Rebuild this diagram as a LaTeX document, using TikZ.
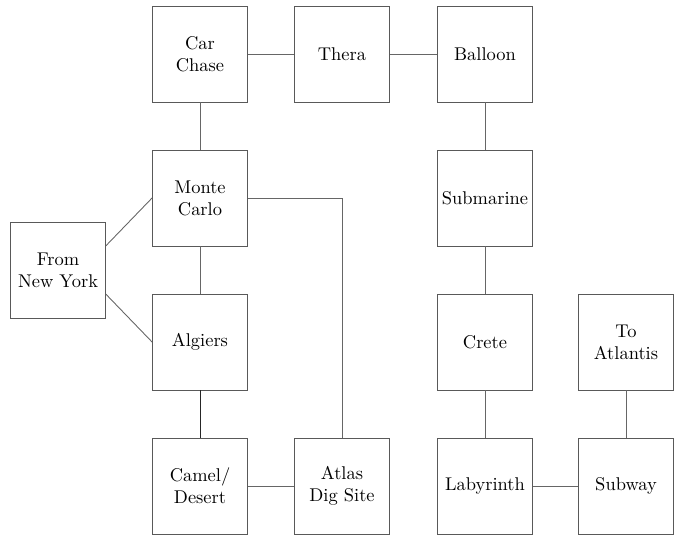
\documentclass[tikz,border=0pt]{standalone}
\usepackage{tikz}
\usetikzlibrary{positioning,calc}

\begin{document}
\begin{tikzpicture}[x=0.02cm,y=-0.02cm,
    place/.style={draw=black!65,line width=0.5pt,minimum width=1.9cm,minimum height=1.92cm,
        inner sep=1pt,align=center,font=\fontsize{10.5}{12.5}\selectfont},
    link/.style={draw=black!60,line width=0.5pt}]
    \useasboundingbox (0,0) rectangle (674,536);

    % Top row
    \node[place] (carchase) at (200,54) {Car\\Chase};
    \node[place] (thera) at (342,54) {Thera};
    \node[place] (balloon) at (485,54) {Balloon};

    % Second row
    \node[place] (montecarlo) at (200,198) {Monte\\Carlo};
    \node[place] (submarine) at (485,198) {Submarine};

    % Start
    \node[place] (newyork) at (58,270) {From\\New York};

    % Third row
    \node[place] (algiers) at (200,342) {Algiers};
    \node[place] (crete) at (485,342) {Crete};
    \node[place] (atlantis) at (626,342) {To\\Atlantis};

    % Bottom row
    \node[place] (camel) at (200,486) {Camel/\\Desert};
    \node[place] (atlas) at (342,486) {Atlas\\Dig Site};
    \node[place] (labyrinth) at (485,486) {Labyrinth};
    \node[place] (subway) at (626,486) {Subway};

    % Connections
    \draw[link] ($(newyork.north east)!0.25!(newyork.south east)$) -- (montecarlo.west);
    \draw[link] ($(newyork.north east)!0.75!(newyork.south east)$) -- (algiers.west);
    \draw[link] (carchase) -- (thera);
    \draw[link] (thera) -- (balloon);
    \draw[link] (carchase) -- (montecarlo);
    \draw[link] (montecarlo) -- (algiers);
    \draw[link,draw=black!85] (algiers) -- (camel);
    \draw[link] (camel) -- (atlas);
    \draw[link] (montecarlo.east) -| (atlas.north);
    \draw[link] (balloon) -- (submarine);
    \draw[link] (submarine) -- (crete);
    \draw[link] (crete) -- (labyrinth);
    \draw[link] (labyrinth) -- (subway);
    \draw[link] (subway) -- (atlantis);
\end{tikzpicture}
\end{document}
